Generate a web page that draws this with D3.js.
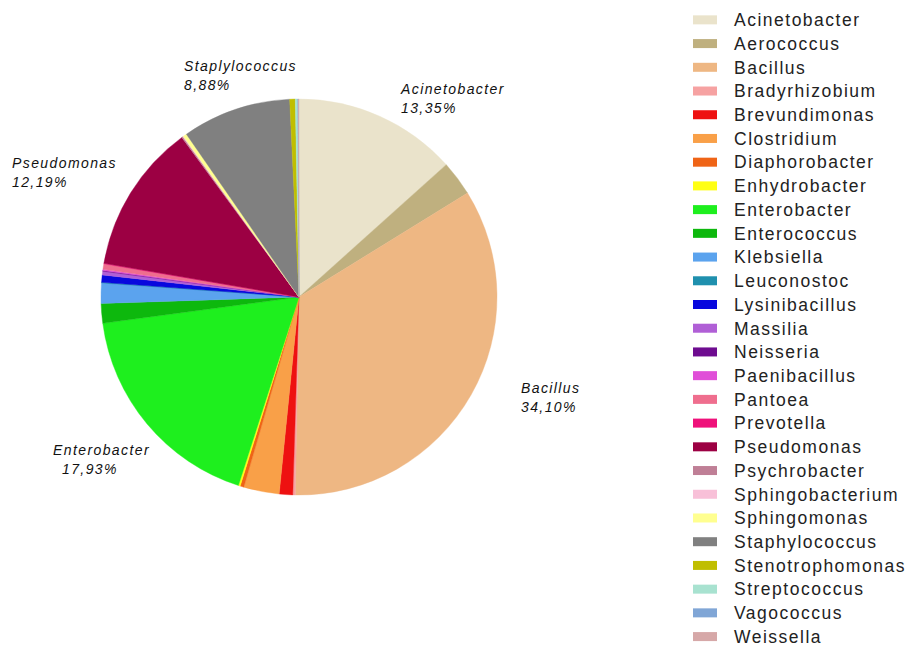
<!DOCTYPE html>
<html>
<head>
<meta charset="utf-8">
<script src="https://cdn.jsdelivr.net/npm/d3@7"></script>
<style>
  html, body { margin: 0; padding: 0; background: #ffffff; }
  svg { display: block; }
</style>
</head>
<body>
<svg id="chart" width="908" height="646"></svg>
<script>
// Genera, in legend / clockwise order
const genera = [
  "Acinetobacter", "Aerococcus", "Bacillus", "Bradyrhizobium", "Brevundimonas",
  "Clostridium", "Diaphorobacter", "Enhydrobacter", "Enterobacter", "Enterococcus",
  "Klebsiella", "Leuconostoc", "Lysinibacillus", "Massilia", "Neisseria",
  "Paenibacillus", "Pantoea", "Prevotella", "Pseudomonas", "Psychrobacter",
  "Sphingobacterium", "Sphingomonas", "Staphylococcus", "Stenotrophomonas",
  "Streptococcus", "Vagococcus", "Weissella"
];

// Relative abundance (%)
const shares = [
  13.35, 2.85, 34.10, 0.20, 1.10,
  2.90, 0.30, 0.15, 17.93, 1.60,
  1.65, 0.05, 0.60, 0.30, 0.05,
  0.10, 0.45, 0.05, 12.19, 0.10,
  0.05, 0.30, 8.88, 0.45,
  0.20, 0.05, 0.05
];

const colors = [
  "#EAE3CB", "#BFB07F", "#EEB783", "#F6A2A2", "#EE1111",
  "#F9A048", "#EF6416", "#FFFF14", "#1EEF1E", "#0DB80D",
  "#5BA3EE", "#1F90AE", "#0808DE", "#B05FD6", "#6E0C90",
  "#E04FD8", "#EF6E8E", "#EF117A", "#9C0043", "#BF7F96",
  "#F8C0D8", "#FFFF90", "#808080", "#C0BE00",
  "#A8E2D0", "#80A6D6", "#D6A8A8"
];

// Slices that carry a label, and their label text
const labelled = ["Acinetobacter", "Bacillus", "Enterobacter", "Pseudomonas", "Staphylococcus"];
const labelNames = ["Acinetobacter", "Bacillus", "Enterobacter", "Pseudomonas", "Staplylococcus"];

const svg = d3.select("#chart");
const cx = 299, cy = 297, radius = 198;

const data = genera.map((g, i) => ({ name: g, value: shares[i], color: colors[i] }));

const pie = d3.pie().sort(null).value(d => d.value);
const arcs = pie(data);
const arc = d3.arc().innerRadius(0).outerRadius(radius);

const g = svg.append("g").attr("transform", `translate(${cx},${cy})`);
g.selectAll("path.slice")
  .data(arcs)
  .join("path")
  .attr("class", "slice")
  .attr("d", arc)
  .attr("fill", d => d.data.color)
  .attr("stroke", d => d.data.color)
  .attr("stroke-width", 0.4);

// Label text blocks: left edge / first baseline, plus indent of the value line
const labelLayout = {
  "Acinetobacter": { x: 401, y: 94, indent: 0 },
  "Bacillus": { x: 521, y: 393, indent: 0 },
  "Enterobacter": { x: 53, y: 455, indent: 9 },
  "Pseudomonas": { x: 12, y: 168, indent: 0 },
  "Staphylococcus": { x: 184, y: 71, indent: 0 }
};
const fmt = v => v.toFixed(2).replace(".", ",") + "%";

labelled.forEach((name, k) => {
  const a = arcs.find(d => d.data.name === name);
  const pos = labelLayout[name];
  const t = svg.append("text")
    .style("font-family", "'Liberation Sans', Arial, sans-serif")
    .style("font-style", "italic")
    .style("font-size", "14px")
    .style("letter-spacing", "1.4px")
    .attr("fill", "#111");
  t.append("tspan").attr("x", pos.x).attr("y", pos.y).text(labelNames[k]);
  t.append("tspan").attr("x", pos.x + pos.indent).attr("y", pos.y + 19).text(fmt(a.data.value));
});

// Legend
const legendY = d3.scaleBand()
  .domain(genera)
  .range([8, 8 + 23.72 * genera.length]);

const legend = svg.append("g");
const rows = legend.selectAll("g.row")
  .data(data)
  .join("g")
  .attr("class", "row")
  .attr("transform", d => `translate(0,${legendY(d.name)})`);

rows.append("rect")
  .attr("x", 693)
  .attr("y", legendY.bandwidth() / 2 - 4.5)
  .attr("width", 24)
  .attr("height", 9)
  .attr("fill", d => d.color);

rows.append("text")
  .attr("x", 734)
  .attr("y", legendY.bandwidth() / 2)
  .attr("dy", "0.36em")
  .style("font-family", "'Liberation Sans', Arial, sans-serif")
  .style("font-size", "17.5px")
  .style("letter-spacing", "1.5px")
  .attr("fill", "#222")
  .text(d => d.name);
</script>
</body>
</html>
